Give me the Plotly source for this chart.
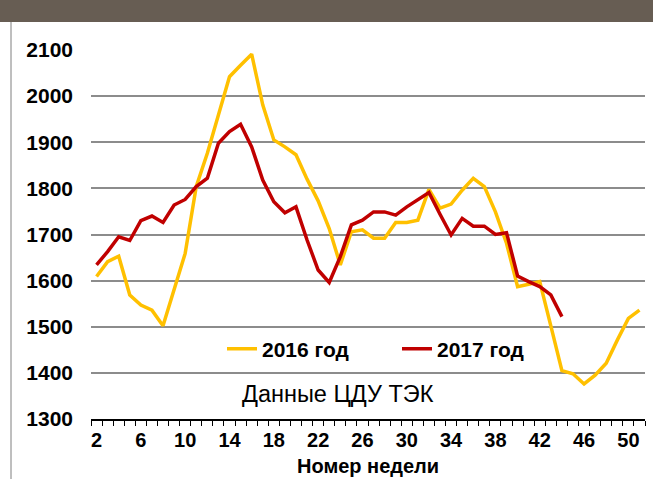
import plotly.graph_objects as go

weeks_2016 = list(range(2, 52))
values_2016 = [1609, 1641, 1653, 1569, 1547, 1536, 1502, 1580, 1659, 1804,
               1876, 1959, 2042, 2067, 2091, 1981, 1905, 1890, 1873, 1820,
               1773, 1713, 1634, 1706, 1710, 1692, 1692, 1726, 1726, 1731,
               1798, 1757, 1766, 1796, 1822, 1804, 1749, 1681, 1587, 1592,
               1598, 1502, 1405, 1398, 1376, 1395, 1421, 1471, 1518, 1536]

weeks_2017 = list(range(2, 45))
values_2017 = [1634, 1663, 1695, 1687, 1730, 1740, 1726, 1764, 1776, 1804,
               1822, 1898, 1923, 1939, 1890, 1818, 1771, 1747, 1760, 1688,
               1623, 1596, 1652, 1721, 1731, 1749, 1749, 1742, 1760, 1776,
               1791, 1744, 1699, 1735, 1718, 1718, 1700, 1704, 1610, 1598,
               1587, 1569, 1522]

x_tick_vals = list(range(2, 51, 4))
y_tick_vals = list(range(1300, 2101, 100))

FONT = "Arial, Liberation Sans, sans-serif"

fig = go.Figure()
fig.add_trace(go.Scatter(x=weeks_2016, y=values_2016, mode="lines", name="2016 год",
                         line=dict(color="#FFC000", width=3.5)))
fig.add_trace(go.Scatter(x=weeks_2017, y=values_2017, mode="lines", name="2017 год",
                         line=dict(color="#C00000", width=3.5)))

W, H = 653, 479
L, R, T, B = 91, 8, 50, 60
pw, ph = W - L - R, H - T - B

def px(xp):
    return (xp - L) / pw

def py(yp):
    return (H - B - yp) / ph

fig.update_layout(
    width=W, height=H,
    margin=dict(l=L, r=R, t=T, b=B),
    paper_bgcolor="white", plot_bgcolor="white",
    font=dict(family=FONT, color="black"),
    showlegend=True,
    legend=dict(orientation="h", x=px(222), y=py(349), xanchor="left", yanchor="middle",
                font=dict(size=21, weight="bold", family=FONT), entrywidth=130,
                bgcolor="rgba(0,0,0,0)", traceorder="normal"),
    xaxis=dict(range=[1.5, 51.5], tickvals=x_tick_vals, ticks="", showgrid=False,
               showline=True, linecolor="black", linewidth=1.5, zeroline=False,
               tickfont=dict(size=20, weight="bold", family=FONT),
               ticklabelstandoff=2,
               minor=dict(ticks="outside", tick0=1.5, dtick=1, ticklen=5,
                          tickcolor="black", tickwidth=1, showgrid=False)),
    yaxis=dict(range=[1300, 2100], tickvals=y_tick_vals, showgrid=True,
               gridcolor="#8c8c8c", gridwidth=2, zeroline=False, showline=False,
               ticks="", tickfont=dict(size=21, weight="bold", family=FONT),
               ticklabelstandoff=17),
    shapes=[
        dict(type="rect", xref="paper", yref="paper", x0=px(0), x1=px(W), y0=py(22), y1=py(0),
             fillcolor="#675d53", line=dict(width=0), layer="above"),
        dict(type="line", xref="paper", yref="paper", x0=px(11), x1=px(11), y0=py(22), y1=py(H),
             line=dict(color="#7f7f7f", width=1)),
    ],
    annotations=[
        dict(text="Данные ЦДУ ТЭК", xref="paper", yref="paper", x=px(338), y=py(394),
             showarrow=False, font=dict(size=23.5, family=FONT), xanchor="center", yanchor="middle"),
        dict(text="Номер недели", xref="paper", yref="paper", x=px(368), y=py(466),
             showarrow=False, font=dict(size=20, weight="bold", family=FONT),
             xanchor="center", yanchor="middle"),
    ],
)

fig.write_html("out.html", config={"displayModeBar": False},
               post_script="document.body.style.margin='0';")
